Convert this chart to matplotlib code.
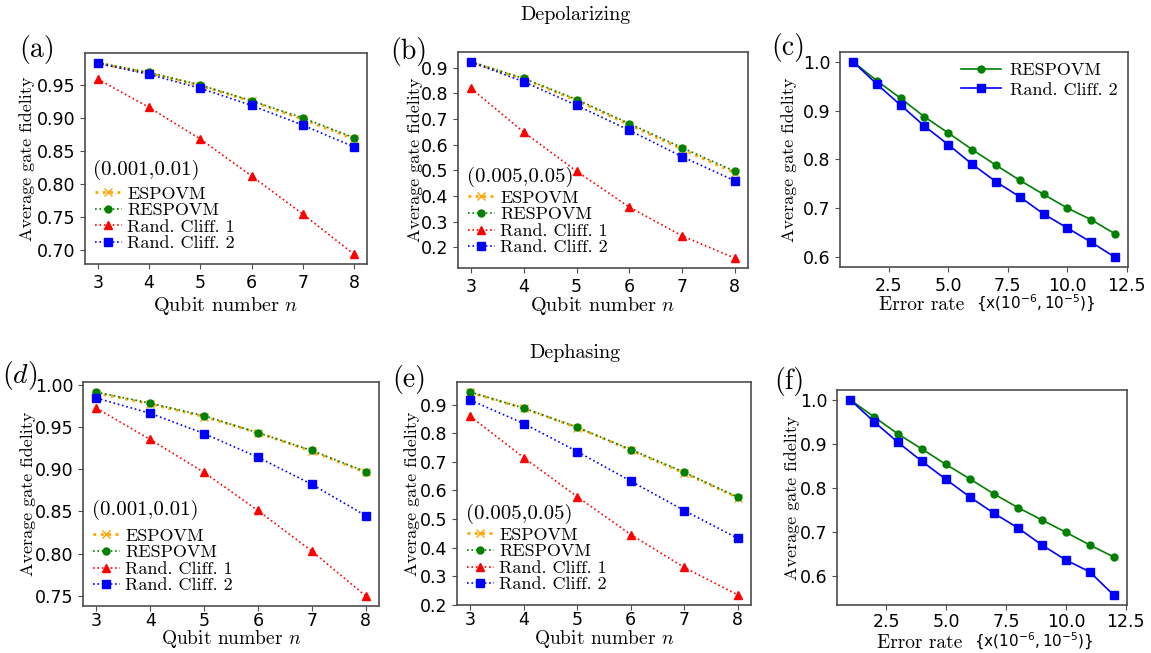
import matplotlib
matplotlib.use("Agg")
import matplotlib.pyplot as plt
from matplotlib.ticker import MultipleLocator

plt.rcParams["mathtext.fontset"] = "cm"
plt.rcParams["axes.unicode_minus"] = False

# qubit number panels
qubits = [3, 4, 5, 6, 7, 8]
# error rate panels
rates = [1, 2, 3, 4, 5, 6, 7, 8, 9, 10, 11, 12]

# Depolarizing, (0.001, 0.01)
a_espovm = [0.983, 0.968, 0.949, 0.925, 0.898, 0.868]
a_respovm = [0.984, 0.969, 0.950, 0.926, 0.900, 0.870]
a_cliff1 = [0.959, 0.916, 0.868, 0.812, 0.754, 0.693]
a_cliff2 = [0.983, 0.966, 0.945, 0.919, 0.889, 0.856]

# Depolarizing, (0.005, 0.05)
b_espovm = [0.921, 0.855, 0.772, 0.677, 0.582, 0.490]
b_respovm = [0.923, 0.858, 0.776, 0.682, 0.588, 0.496]
b_cliff1 = [0.819, 0.648, 0.496, 0.356, 0.244, 0.157]
b_cliff2 = [0.922, 0.845, 0.753, 0.656, 0.553, 0.459]

# Depolarizing vs error rate
c_respovm = [1.0, 0.961, 0.925, 0.887, 0.854, 0.820, 0.788, 0.757, 0.728, 0.700, 0.676, 0.647]
c_cliff2 = [1.0, 0.954, 0.911, 0.868, 0.830, 0.790, 0.754, 0.723, 0.688, 0.659, 0.630, 0.599]

# Dephasing, (0.001, 0.01)
d_espovm = [0.990, 0.977, 0.962, 0.943, 0.921, 0.896]
d_respovm = [0.991, 0.978, 0.963, 0.943, 0.922, 0.897]
d_cliff1 = [0.972, 0.935, 0.896, 0.851, 0.803, 0.750]
d_cliff2 = [0.984, 0.966, 0.942, 0.914, 0.882, 0.845]

# Dephasing, (0.005, 0.05)
e_espovm = [0.943, 0.887, 0.820, 0.741, 0.661, 0.575]
e_respovm = [0.944, 0.888, 0.821, 0.743, 0.664, 0.577]
e_cliff1 = [0.859, 0.715, 0.578, 0.446, 0.331, 0.235]
e_cliff2 = [0.916, 0.834, 0.736, 0.633, 0.530, 0.433]

# Dephasing vs error rate
f_respovm = [1.0, 0.961, 0.922, 0.888, 0.853, 0.820, 0.786, 0.755, 0.727, 0.699, 0.670, 0.643]
f_cliff2 = [1.0, 0.950, 0.903, 0.860, 0.819, 0.779, 0.742, 0.709, 0.670, 0.636, 0.609, 0.556]

W, H = 1151, 653
fig = plt.figure(figsize=(W / 100, H / 100), dpi=100)

serif = "cmr10"
spine_col = "#4d4d4d"


def new_axes(l, r, t, b):
    ax = fig.add_axes([l / W, 1 - b / H, (r - l) / W, (b - t) / H])
    ax.px = (r - l, b - t)
    return ax


def style(ax, ystep, tick_size, tick_pad, ylab_x):
    for s in ax.spines.values():
        s.set_color(spine_col)
        s.set_linewidth(1.2)
    ax.yaxis.set_major_locator(MultipleLocator(ystep))
    ax.tick_params(labelsize=tick_size, color=spine_col)
    ax.tick_params(axis="x", pad=tick_pad)
    ax.set_ylabel("Average gate fidelity", fontfamily=serif, fontsize=13)
    ax.yaxis.label.set_va("center")
    ax.yaxis.set_label_coords(ylab_x / ax.px[0], 0.5)


def qubit_panel(box, esp, resp, c1, c2, ystep, note, note_y, ylab_dx, xlab_dy, tick_pad, xlab_size):
    ax = new_axes(*box)
    ax.plot(qubits, esp, ":", color="orange", marker="x", ms=6, lw=2, label="ESPOVM")
    ax.plot(qubits, resp, ":", color="green", marker="o", ms=5, lw=1.2, label="RESPOVM")
    ax.plot(qubits, c1, ":", color="red", marker="^", ms=5.5, lw=1.2, label="Rand. Cliff. 1")
    ax.plot(qubits, c2, ":", color="blue", marker="s", ms=5.5, lw=1.2, label="Rand. Cliff. 2")
    style(ax, ystep, 12.5, tick_pad, ylab_dx)
    ax.set_xticks(qubits)
    ax.set_xlabel("Qubit number $n$", fontfamily=serif, fontsize=xlab_size)
    ax.xaxis.label.set_va("center")
    ax.xaxis.set_label_coords(0.5, -xlab_dy / ax.px[1])
    ax.text(0.03, note_y, note, transform=ax.transAxes, fontfamily=serif, fontsize=15, va="center")
    ax.legend(loc="lower left", bbox_to_anchor=(-0.01, 0.0), frameon=False, handlelength=1.5,
              handletextpad=0.3, labelspacing=0.05, borderaxespad=0.3,
              prop={"family": serif, "size": 13})
    return ax


def rate_panel(box, resp, c2, show_legend, ylab_dx, xlab_dy, tick_pad):
    ax = new_axes(*box)
    ax.plot(rates, resp, "-", color="green", marker="o", ms=5, lw=1.2, label="RESPOVM")
    ax.plot(rates, c2, "-", color="blue", marker="s", ms=6, lw=1.2, label="Rand. Cliff. 2")
    style(ax, 0.1, 12.5, tick_pad, ylab_dx)
    ax.annotate("Error rate", xy=(0.5, 0), xycoords="axes fraction", xytext=(-14, -xlab_dy * 0.72),
                textcoords="offset points", ha="right", va="center", fontfamily=serif, fontsize=14)
    ax.annotate(r"{x($10^{-6}, 10^{-5}$)}", xy=(0.5, 0), xycoords="axes fraction",
                xytext=(-6, -xlab_dy * 0.72 + 1), textcoords="offset points", ha="left", va="center",
                fontsize=11, math_fontfamily="dejavusans")
    if show_legend:
        ax.legend(loc="upper right", frameon=False, handlelength=2.2, handletextpad=0.5,
                  labelspacing=0.2, borderaxespad=0.2, prop={"family": serif, "size": 13})
    return ax


qubit_panel((85, 367, 53, 264), a_espovm, a_respovm, a_cliff1, a_cliff2, 0.05,
            "(0.001,0.01)", 0.445, -58, 42, 3.5, 14.5)
qubit_panel((458, 748, 52, 268), b_espovm, b_respovm, b_cliff1, b_cliff2, 0.1,
            "(0.005,0.05)", 0.42, -43, 38, 3.5, 14.5)
rate_panel((840, 1128, 52, 267), c_respovm, c_cliff2, True, -51, 38, 3.5)
qubit_panel((83, 379, 382, 606), d_espovm, d_respovm, d_cliff1, d_cliff2, 0.05,
            "(0.001,0.01)", 0.43, -55, 33, 1.0, 14)
qubit_panel((457, 751, 382, 605), e_espovm, e_respovm, e_cliff1, e_cliff2, 0.1,
            "(0.005,0.05)", 0.41, -45, 34, 1.0, 14)
rate_panel((837, 1127, 390, 605), f_respovm, f_cliff2, False, -45, 38, 2.0)

# panel tags
tags = [("(a)", 37, 50), ("(b)", 409, 51), ("(c)", 788, 48),
        ("$(d)$", 20, 375), ("(e)", 409, 379), ("(f)", 789, 382)]
for txt, x, y in tags:
    fig.text(x / W, 1 - y / H, txt, fontfamily=serif, fontsize=20, ha="center", va="center")

fig.text(575 / W, 1 - 15 / H, "Depolarizing", fontfamily=serif, fontsize=14.5, ha="center", va="center")
fig.text(575 / W, 1 - 353 / H, "Dephasing", fontfamily=serif, fontsize=14.5, ha="center", va="center")

fig.savefig("out.png", dpi=100)
